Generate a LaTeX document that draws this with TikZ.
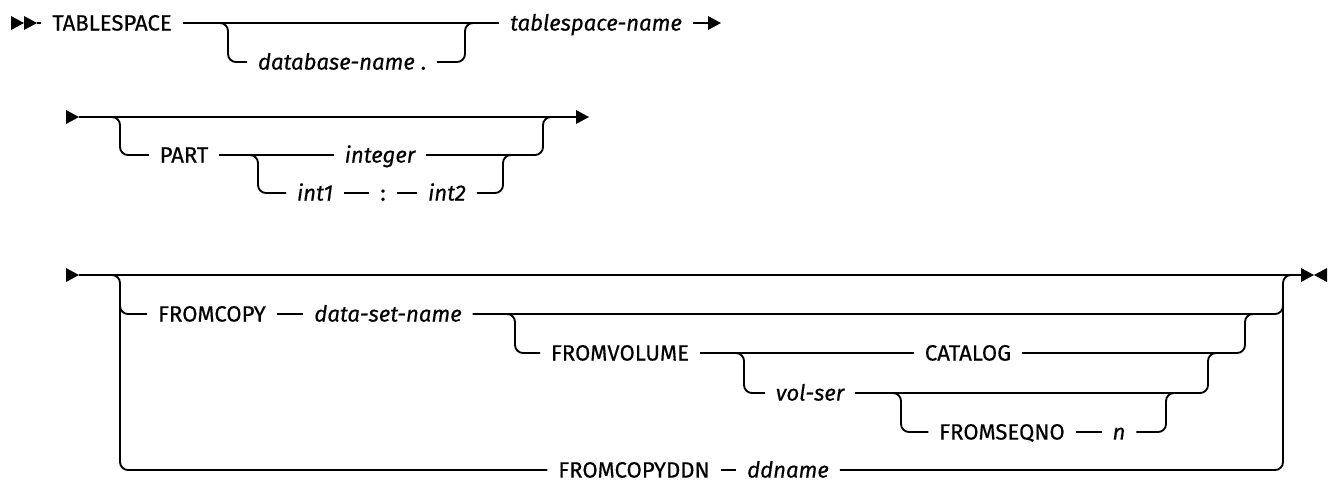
\documentclass[tikz,border=0pt]{standalone}
\usepackage{fontspec}
\setmainfont{Fira Sans}[FakeBold=0.4]
\usetikzlibrary{calc}
\begin{document}
\begin{tikzpicture}[x=0.75pt,y=-0.75pt, line width=1.4pt,
  rc/.style={rounded corners=6pt},
  kw/.style={inner xsep=7.5pt, inner ysep=0pt, text height=11.3pt, text depth=0pt, font=\fontsize{16.6}{19}\selectfont},
  var/.style={kw, font=\fontsize{16.6}{19}\selectfont\itshape},
  rtri/.pic={\fill (-13,-7) -- (0,0) -- (-13,7) -- cycle;},
  ltri/.pic={\fill (13,-7) -- (0,0) -- (13,7) -- cycle;}]
\useasboundingbox (0,0) rectangle (1328,487);
% ---------- row 1
\coordinate (s1) at (37,23);
\pic at (24,23) {rtri}; \pic at (s1) {rtri};
\node[kw] (ts) at (112,23) {TABLESPACE};
\node[kw] (dbn) at (342,62) {\textit{database-name} .};
\node[var] (tsn) at (596,23) {tablespace-name};
\coordinate (e1) at (721,23);
\coordinate (b1l) at (228,23); \coordinate (b1r) at (465,23);
\draw (s1) -- (ts.west);
\draw (ts.east) -- (tsn.west);
\draw[rc] ($(b1l)+(-20,0)$) -- (b1l) |- (dbn.west);
\draw[rc] (dbn.east) -| (b1r) -- ++(20,0);
\draw (tsn.east) -- ($(e1)+(-12,0)$); \pic at (e1) {rtri};
% ---------- row 2
\coordinate (s2) at (79,117); \pic at (s2) {rtri};
\coordinate (e2) at (589,117);
\draw (s2) -- ($(e2)+(-12,0)$); \pic at (e2) {rtri};
\coordinate (l2) at (120,117); \coordinate (r2) at (543,117);
\node[kw] (part) at (184,155) {PART};
\node[var] (int) at (380,155) {integer};
\coordinate (il2) at (258,155); \coordinate (ir2) at (503,155);
\node[var] (i1) at (315,193) {int1};
\node[kw] (col) at (383,193) {:};
\node[var] (i2) at (447,193) {int2};
\draw[rc] ($(l2)+(-20,0)$) -- (l2) |- (part.west);
\draw (part.east) -- (int.west);
\draw[rc] (int.east) -| (r2) -- ++(20,0);
\draw[rc] ($(il2)+(-20,0)$) -- (il2) |- (i1.west);
\draw (i1.east) -- (col.west); \draw (col.east) -- (i2.west);
\draw[rc] (i2.east) -| (ir2) -- ++(20,0);
% ---------- row 3
\coordinate (s3) at (79,275); \pic at (s3) {rtri};
\coordinate (e3) at (1314,275);
\draw (s3) -- ($(e3)+(-12,0)$); \pic at (e3) {rtri}; \pic at (e3) {ltri};
\coordinate (l3) at (120,275); \coordinate (r3) at (1283,275);
\node[kw] (fc) at (212,314) {FROMCOPY};
\node[var] (dsn) at (388,314) {data-set-name};
\node[kw] (fv) at (620,353) {FROMVOLUME};
\node[kw] (cat) at (968,353) {CATALOG};
\node[var] (vs) at (810,393) {vol-ser};
\node[kw] (fs) at (1002,432) {FROMSEQNO};
\node[var] (n) at (1119,432) {n};
\node[kw] (fcd) at (634,470) {FROMCOPYDDN};
\node[var] (ddn) at (788,470) {ddname};
\coordinate (v1l) at (515,314); \coordinate (v1r) at (1245,314);
\coordinate (c1l) at (744,353); \coordinate (c1r) at (1208,353);
\coordinate (q1l) at (901,393); \coordinate (q1r) at (1166,393);
\draw[rc] ($(l3)+(-20,0)$) -- (l3) |- (fcd.west);
\draw[rc] ($(l3)+(0,19)$) |- (fc.west);
\draw (fc.east) -- (dsn.west);
\draw[rc] (dsn.east) -| ($(r3)+(0,19)$);
\draw (fcd.east) -- (ddn.west);
\draw[rc] (ddn.east) -| (r3) -- ++(20,0);
\draw[rc] ($(v1l)+(-20,0)$) -- (v1l) |- (fv.west);
\draw (fv.east) -- (cat.west);
\draw[rc] (cat.east) -| (v1r) -- ++(20,0);
\draw[rc] ($(c1l)+(-20,0)$) -- (c1l) |- (vs.west);
\draw[rc] (vs.east) -| (c1r) -- ++(20,0);
\draw[rc] ($(q1l)+(-20,0)$) -- (q1l) |- (fs.west);
\draw (fs.east) -- (n.west);
\draw[rc] (n.east) -| (q1r) -- ++(20,0);
\end{tikzpicture}
\end{document}
